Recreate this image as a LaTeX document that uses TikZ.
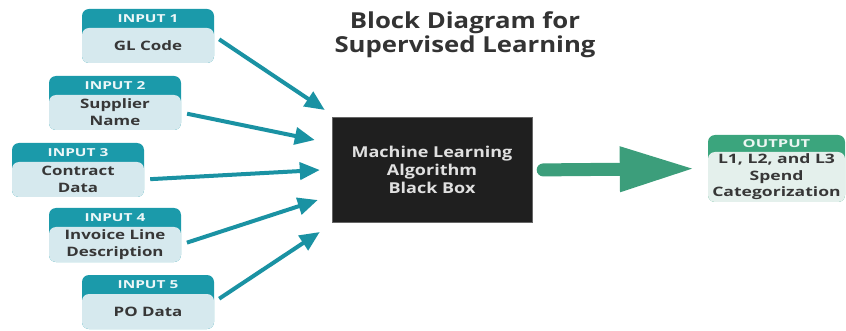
\documentclass[tikz,border=0pt]{standalone}
\usepackage{fontspec}
\setmainfont{Open Sans}
\usetikzlibrary{arrows.meta,calc}
\definecolor{headteal}{RGB}{27,154,170}
\definecolor{bodyblue}{RGB}{214,233,238}
\definecolor{headgreen}{RGB}{59,165,125}
\definecolor{bodygreen}{RGB}{228,240,236}
\definecolor{arrowteal}{RGB}{26,146,163}
\definecolor{arrowgreen}{RGB}{60,158,123}
\definecolor{bodytext}{RGB}{55,55,55}
\newcommand{\widefont}[3]{\bfseries\fontsize{#1}{#2}\selectfont\addfontfeature{FakeStretch=#3}}
\tikzset{
	inbox/.style={
		fill=headteal, rounded corners=7, minimum width=132, minimum height=54, inner sep=0},
	inbody/.style={
		fill=bodyblue, rounded corners=7, minimum width=132, minimum height=35, inner sep=1,
		anchor=south, align=center, text=bodytext,
		font=\widefont{13}{17}{1.3}},
	inhead/.style={
		anchor=north, minimum height=19, inner sep=0, text=white!92!headteal,
		font=\widefont{11}{12}{1.4}},
	outbox/.style={inbox, fill=headgreen, minimum width=137, minimum height=67},
	outbody/.style={inbody, fill=bodygreen, minimum width=137, minimum height=50, inner sep=0,
		font=\widefont{13}{16.5}{1.35}},
	outhead/.style={inhead, minimum height=17, text=white!90!headgreen,
		font=\widefont{11}{12}{1.5}},
	blackbox/.style={
		fill=black!88, draw=black!60, minimum width=200, minimum height=105, align=center,
		text=white!88!black, font=\widefont{15}{18}{1.2}},
	inarrow/.style={
		draw=arrowteal, line width=4, shorten <=6,
		-{Triangle[length=20pt,width=17pt]}},
	bigarrow/.style={
		draw=arrowgreen, line width=13, line cap=round, shorten <=11, shorten >=13,
		-{Triangle[length=75pt,width=42pt]}}
}
\begin{document}
\begin{tikzpicture}[x=1pt,y=1pt,yscale=-1,xscale=1]
\useasboundingbox (0,0) rectangle (846,331);

% title
\node[align=center, text=black!80, font=\widefont{22}{24}{1.17}] (title) at (465,35)
	{Block Diagram for\\Supervised Learning};

% input boxes
\node[inbox] (in1) at (148,36) {};
\node[inbody] (in1b) at (in1.south) {GL Code};
\node[inhead] (in1h) at (in1.north) {INPUT 1};

\node[inbox] (in2) at (115,103) {};
\node[inbody] (in2b) at (in2.south) {Supplier\\Name};
\node[inhead] (in2h) at (in2.north) {INPUT 2};

\node[inbox] (in3) at (78,170) {};
\node[inbody] (in3b) at (in3.south) {Contract\\Data};
\node[inhead] (in3h) at (in3.north) {INPUT 3};

\node[inbox] (in4) at (115,235) {};
\node[inbody] (in4b) at (in4.south) {Invoice Line\\Description};
\node[inhead] (in4h) at (in4.north) {INPUT 4};

\node[inbox] (in5) at (148,302) {};
\node[inbody] (in5b) at (in5.south) {PO Data};
\node[inhead] (in5h) at (in5.north) {INPUT 5};

% black box
\node[blackbox] (ml) at (432,170) {Machine Learning\\Algorithm\\Black Box};

% output box
\node[outbox] (out) at (776.5,168.5) {};
\node[outbody] (outb) at (out.south) {L1, L2, and L3\\Spend\\Categorization};
\node[outhead] (outh) at (out.north) {OUTPUT};

% arrows
\draw[inarrow] (in1.east) -- ($(ml.west)+(-7,-60)$);
\draw[inarrow] (in2b.east) -- ($(ml.west)+(-17,-30)$);
\draw[inarrow] (in3b.east) -- ($(ml.west)+(-12,0)$);
\draw[inarrow] (in4b.east) -- ($(ml.west)+(-14,30)$);
\draw[inarrow] (in5.east) -- ($(ml.west)+(-12,62)$);

\draw[bigarrow] (ml.east) -- (out.west);

\end{tikzpicture}
\end{document}
